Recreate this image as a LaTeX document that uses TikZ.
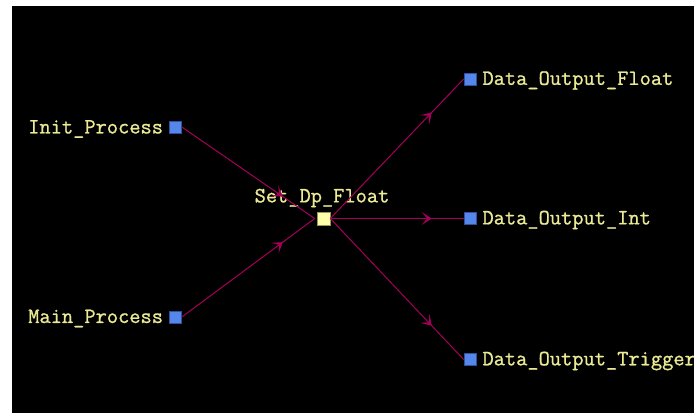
\documentclass[tikz,border=0pt]{standalone}
\usepackage{fontspec}
\newfontfamily\lblfont{Latin Modern Mono}[FakeBold=1.0]
\usetikzlibrary{arrows.meta,decorations.markings}

\definecolor{canvas}{RGB}{0,0,0}
\definecolor{labeltext}{RGB}{235,235,150}
\definecolor{portblue}{RGB}{85,135,235}
\definecolor{portedge}{RGB}{50,80,160}
\definecolor{hubfill}{RGB}{255,255,170}
\definecolor{hubedge}{RGB}{150,150,90}
\definecolor{wire}{RGB}{165,0,90}

\tikzset{
  port/.style={draw=portedge, fill=portblue, line width=0.6pt,
    minimum size=12pt, inner sep=0pt},
  hub/.style={draw=hubedge, fill=hubfill, line width=0.6pt,
    minimum size=13pt, inner sep=0pt},
  lbl/.style={text=labeltext, inner sep=0pt,
    font=\lblfont\fontsize{21.8}{24}\selectfont},
  wireline/.style={draw=wire, line width=1pt,
    postaction={decorate},
    decoration={markings,
      mark=at position 0.76 with {\arrow[wire]{Stealth[length=10pt,width=13pt,inset=5.5pt]}}}}
}

\begin{document}
\begin{tikzpicture}[x=1pt,y=-1pt]
  \useasboundingbox (0,0) rectangle (694,413);
  \fill[canvas] (12,6) rectangle (694,413);

  % blocks
  \node[port] (init) at (175.5,127) {};
  \node[port] (main) at (175.5,317) {};
  \node[hub]  (set)  at (323.5,218.5) {};
  \node[port] (dof)  at (470,79) {};
  \node[port] (doi)  at (470,218.5) {};
  \node[port] (dot)  at (470,359.5) {};

  % names
  \node[lbl, anchor=east] (initname) at ([xshift=-6pt,yshift=-2pt]init.west) {Init\_Process};
  \node[lbl, anchor=east] (mainname) at ([xshift=-6pt,yshift=-1.5pt]main.west) {Main\_Process};
  \node[lbl] (setname) at (322,198) {Set\_Dp\_Float};
  \node[lbl, anchor=west] (dofname) at ([xshift=6pt,yshift=-1.5pt]dof.east) {Data\_Output\_Float};
  \node[lbl, anchor=west] (doiname) at ([xshift=6pt,yshift=-1.5pt]doi.east) {Data\_Output\_Int};
  \node[lbl, anchor=west] (dotname) at ([xshift=6pt,yshift=-1.5pt]dot.east) {Data\_Output\_Trigger};

  % connections
  \draw[wireline] (init.east) -- ([xshift=-2pt]set.west);
  \draw[wireline] (main.east) -- ([xshift=-2pt]set.west);
  \draw[wireline] (set.east) -- (dof.west);
  \draw[wireline] (set.east) -- (doi.west);
  \draw[wireline] (set.east) -- (dot.west);
\end{tikzpicture}
\end{document}
